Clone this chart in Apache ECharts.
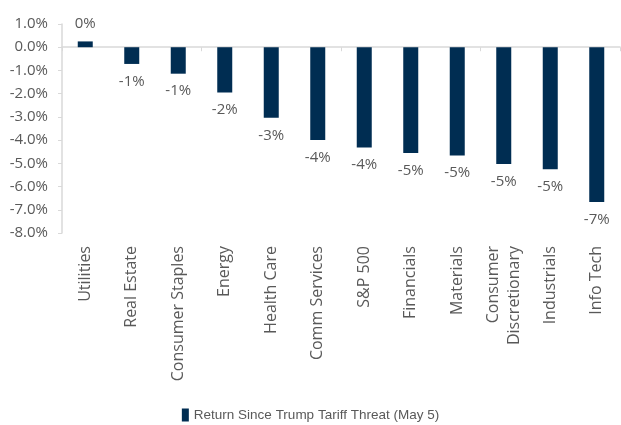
<!DOCTYPE html>
<html>
<head>
<meta charset="utf-8">
<script src="https://cdn.jsdelivr.net/npm/echarts@6/dist/echarts.min.js"></script>
<style>
  html, body { margin: 0; padding: 0; background: #fff; }
  #main { width: 621px; height: 425px; }
</style>
</head>
<body>
<div id="main"></div>
<script>
const sectors = ['Utilities', 'Real Estate', 'Consumer Staples', 'Energy', 'Health Care', 'Comm Services',
  'S&P 500', 'Financials', 'Materials', 'Consumer\nDiscretionary', 'Industrials', 'Info Tech']
const returns = [0.25, -0.72, -1.14, -1.95, -3.04, -3.99, -4.32, -4.56, -4.66, -5.03, -5.25, -6.67]
const seriesName = 'Return Since Trump Tariff Threat (May 5)'

const gray = '#595959'
const lineGray = '#d9d9d9'

const myChart = echarts.init(document.getElementById('main'))
myChart.setOption({
  animation: false,
  textStyle: { fontFamily: 'Open Sans' },
  grid: { left: 62, right: 1, top: 24, bottom: 192 },
  legend: {
    bottom: -2,
    left: 'center',
    itemWidth: 7,
    itemHeight: 13,
    itemGap: 5,
    icon: 'rect',
    textStyle: { color: gray, fontSize: 13.5, fontFamily: 'Liberation Sans Narrow, Arial Narrow, sans-serif' },
    data: [seriesName]
  },
  xAxis: [
    {
      type: 'category',
      data: sectors,
      position: 'bottom',
      axisLine: { show: false, onZero: false },
      axisTick: { show: false },
      axisLabel: { rotate: 90, color: gray, fontSize: 16, margin: 13, lineHeight: 21, interval: 0 }
    },
    {
      // zero line with ticks
      type: 'category',
      data: sectors,
      position: 'top',
      axisLine: { show: true, onZero: true, lineStyle: { color: lineGray, width: 1.5 } },
      axisTick: { show: true, inside: true, length: 4, lineStyle: { color: lineGray } },
      axisLabel: { show: false }
    }
  ],
  yAxis: {
    type: 'value',
    min: -8,
    max: 1,
    interval: 1,
    splitLine: { show: false },
    axisLine: { show: true, lineStyle: { color: lineGray, width: 1.5 } },
    axisTick: { show: true, length: 4, lineStyle: { color: lineGray } },
    axisLabel: { color: gray, fontSize: 15, margin: 14, formatter: (v) => v.toFixed(1) + '%' }
  },
  series: [
    {
      name: seriesName,
      type: 'bar',
      xAxisIndex: 0,
      barWidth: 15,
      itemStyle: { color: '#002d52' },
      data: returns.map((v) => ({
        value: v,
        label: { position: v >= 0 ? 'top' : 'bottom' }
      })),
      label: {
        show: true,
        distance: 10,
        color: gray,
        fontSize: 15,
        formatter: (p) => Math.round(p.value) + '%'
      }
    }
  ]
})
</script>
</body>
</html>
